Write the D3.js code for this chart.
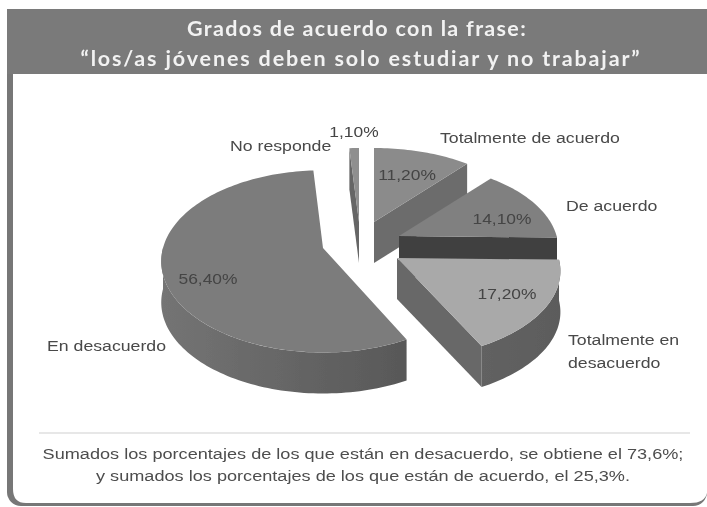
<!DOCTYPE html>
<html><head><meta charset="utf-8">
<script src="https://cdn.jsdelivr.net/npm/d3@7"></script>
<style>html,body{margin:0;padding:0;background:#fff}svg{display:block}</style>
</head><body><svg id="c" width="707" height="507"></svg>
<script>
const categories=["Totalmente de acuerdo","De acuerdo","Totalmente en desacuerdo","En desacuerdo","No responde"];
const values=[11.2,14.1,17.2,56.4,1.1];
const valueLabels=["11,20%","14,10%","17,20%","56,40%","1,10%"];
const titleLines=["Grados de acuerdo con la frase:","“los/as jóvenes deben solo estudiar y no trabajar”"];
const noteLines=["Sumados los porcentajes de los que están en desacuerdo, se obtiene el 73,6%;","y sumados los porcentajes de los que están de acuerdo, el 25,3%."];
// layout / style
const apexX=[374,399,397,323,359], apexY=[222,236,258,248,222], radiusK=[1,0.985,1.01,1,1], depthK=[1,1,1,1.05,1];
const topFill=["#8b8b8b","#808080","#a9a9a9","#7c7c7c","#8f8f8f"];
const wallFill=["#6c6c6c","#414141","#686868","#6e6e6e","#666666"];
const outerDark=["#6c6c6c","#414141","#5c5c5c","#585858","#666666"];
const outerLight=["#777777","#555555","#626262","#747474","#777777"];
const valuePos=[[407,174],[502,218],[507,293],[208,278],[354,131]];
const catLabelPos=[[[440,143]],[[566,211]],[[568,345],[568,368]],[[47,351]],[[230,151]]];
const titleSpacing=[1.32,1.86], titleX=[357,361];
const R=160, kA=84.9/160, pers=0.147/160, H=41;

const svg=d3.select("#c");
// frame
svg.append("rect").attr("x",7).attr("y",9).attr("width",700).attr("height",497).attr("rx",14).attr("fill","#777777");
svg.append("path").attr("fill","#fff").attr("d","M13,74H707V493Q705,503 690,503H26Q13,503 13,489Z");
svg.append("rect").attr("x",7).attr("y",9).attr("width",700).attr("height",65).attr("fill","#7a7a7a");

const blur=svg.append("defs").append("filter").attr("id","b").attr("x","-10%").attr("y","-10%").attr("width","120%").attr("height","120%");
blur.append("feGaussianBlur").attr("stdDeviation",0.6);

const gx=svg.append("defs").selectAll("linearGradient").data(values).join("linearGradient")
 .attr("id",(d,i)=>"g"+i).attr("x1",0).attr("x2",1).attr("y1",0).attr("y2",0);
gx.append("stop").attr("offset","0%").attr("stop-color",(d,i)=>outerLight[i]);
gx.append("stop").attr("offset","100%").attr("stop-color",(d,i)=>outerDark[i]);

const arcs=d3.pie().sort(null).startAngle(0).endAngle(2*Math.PI)(values);
const g=svg.append("g").attr("filter","url(#b)");
function proj(i,a,r,z){ // a clockwise from top, r radius, z depth
  const rr=r*radiusK[i], u=rr*Math.sin(a), v=-rr*Math.cos(a), s=1/(1-v*pers);
  return [apexX[i]+u*s, apexY[i]+v*kA*depthK[i]*s+z*H];
}
const line=d3.line();
function arcPts(i,a0,a1,z){
  const n=Math.max(2,Math.ceil((a1-a0)*40));
  return d3.range(n+1).map(j=>proj(i,a0+(a1-a0)*j/n,R,z));
}
const HP=Math.PI/2;
[0,1,4,3,2].forEach(i=>{
  const {startAngle:a0,endAngle:a1}=arcs[i];
  const sl=g.append("g");
  // outer wall: only the part of the rim that faces the viewer
  const f0=Math.max(a0,HP), f1=Math.min(a1,3*HP);
  if(f1>f0) sl.append("path").attr("fill",`url(#g${i})`).attr("d",line([...arcPts(i,f0,f1,0),...arcPts(i,f0,f1,1).reverse()])+"Z");
  // radial walls: only those whose normal points to the viewer
  [[a0,a0-HP],[a1,a1+HP]].filter(w=>Math.cos(w[1])<-1e-6).forEach(w=>{
    const a=w[0];
    sl.append("path").attr("fill",wallFill[i]).attr("d",line([proj(i,a,0,0),proj(i,a,R,0),proj(i,a,R,1),proj(i,a,0,1)])+"Z");
  });
  sl.append("path").attr("fill",topFill[i]).attr("d",line([proj(i,a0,0,0),...arcPts(i,a0,a1,0)])+"Z");
});

const t=svg.append("g").attr("filter","url(#b)");
t.selectAll("text.t").data(titleLines).join("text").attr("class","t").attr("x",(d,i)=>titleX[i]).attr("y",(d,i)=>36+i*30)
 .attr("text-anchor","middle").attr("font-family","Lato").attr("font-weight",700).attr("font-size",21.5).attr("letter-spacing",(d,i)=>titleSpacing[i])
 .attr("fill","#f2f2f2").text(d=>d);
valueLabels.forEach((d,i)=>{
  t.append("text").attr("transform",`translate(${valuePos[i][0]},${valuePos[i][1]+6}) scale(1.16,1)`).attr("text-anchor","middle")
   .attr("font-family","Liberation Sans").attr("font-size",15).attr("fill","#444").text(d);
});
const catLines=[["Totalmente de acuerdo"],["De acuerdo"],["Totalmente en","desacuerdo"],["En desacuerdo"],["No responde"]];
catLines.forEach((ls,i)=>ls.forEach((l,j)=>{
  t.append("text").attr("transform",`translate(${catLabelPos[i][j][0]},${catLabelPos[i][j][1]}) scale(1.18,1)`).attr("font-family","Liberation Sans")
   .attr("font-size",15).attr("fill","#484848").text(l);
}));
svg.append("line").attr("x1",39).attr("x2",690).attr("y1",433).attr("y2",433).attr("stroke","#cfcfcf").attr("stroke-width",1);
t.selectAll("text.n").data(noteLines).join("text").attr("class","n").attr("transform",(d,i)=>`translate(363,${459+i*22}) scale(1.21,1)`)
 .attr("text-anchor","middle").attr("font-family","Liberation Sans").attr("font-size",15).attr("fill","#4d4d4d").text(d=>d);
</script></body></html>
